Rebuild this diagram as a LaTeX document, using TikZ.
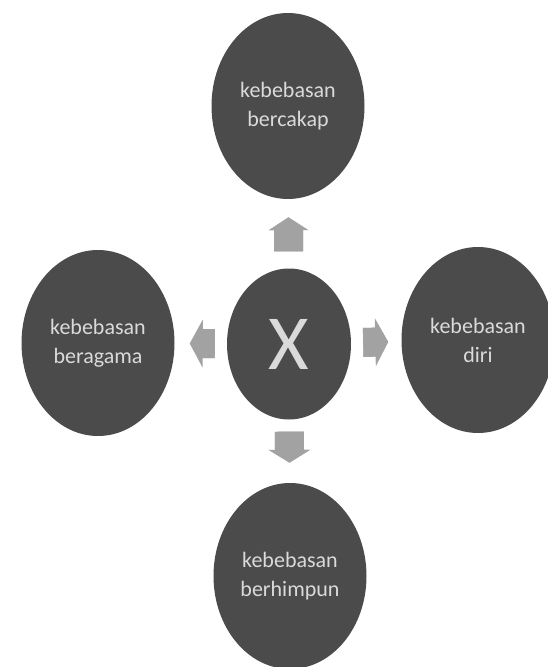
\documentclass[tikz,border=0pt]{standalone}
\usepackage{fontspec}
\setmainfont{Carlito}
\usepackage{tikz}
\usetikzlibrary{shapes.geometric,arrows.meta}
\definecolor{discfill}{HTML}{4B4B4B}
\definecolor{discText}{HTML}{DADADA}
\definecolor{blockgray}{HTML}{A2A2A2}

\begin{document}
\begin{tikzpicture}[x=1pt, y=-1pt,
    disc/.style={ellipse, fill=discfill, inner sep=0pt, text=discText, align=center,
        font=\fontsize{22}{29}\selectfont, minimum width=153pt, minimum height=186pt},
    blockshaft/.style={line width=29pt, blockgray}]
    \useasboundingbox (0,0) rectangle (547,667);

    % Draw the centre and the four freedoms
    \node[disc, minimum width=124pt, minimum height=151pt, font=\fontsize{78}{78}\selectfont] (hub) at (289,344) {X};
    \node[disc] (cakap) at (288,106) {kebebasan\\bercakap};
    \node[disc] (agama) at (98,343) {kebebasan\\beragama};
    \node[disc] (diri) at (478,340) {kebebasan\\diri};
    \node[disc] (himpun) at (290,576) {kebebasan\\berhimpun};

    % Block arrows from the centre outwards (shaft drawn again to hide the seam)
    \foreach \dest/\s/\e/\w in {cakap/17/18/40, agama/12/15/48, diri/12/13/48, himpun/12/20/42} {
        \draw[blockshaft, -{Triangle[length=13pt, width=\w pt, line width=0pt]},
            shorten <=\s pt, shorten >=\e pt] (hub) -- (\dest);
        \draw[blockshaft, shorten <=\s pt, shorten >=\e pt+10pt] (hub) -- (\dest);
    }
\end{tikzpicture}
\end{document}
